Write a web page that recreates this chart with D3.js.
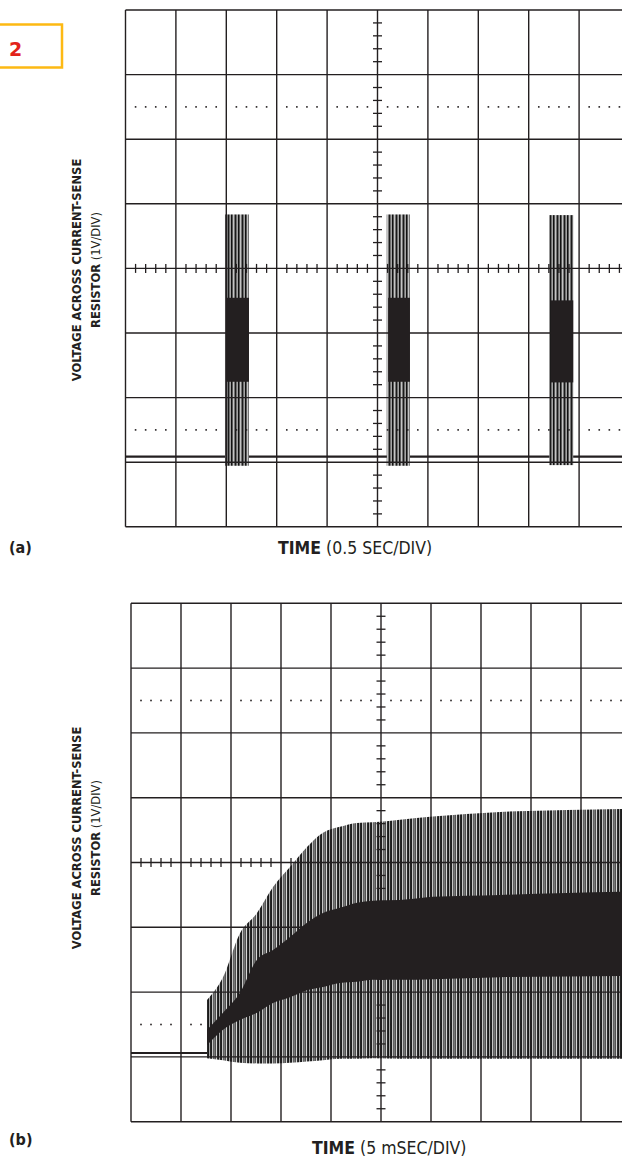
<!DOCTYPE html>
<html>
<head>
<meta charset="utf-8">
<script src="https://cdn.jsdelivr.net/npm/d3@7"></script>
<style>
  body { margin: 0; background: #fff; }
  svg { display: block; }
  text { font-family: "Liberation Sans Narrow", "DejaVu Sans Condensed", "Arial Narrow", sans-serif; fill: #231f20; }
  .bold { font-weight: bold; }
</style>
</head>
<body>
<div id="chart"></div>
<script>
// ---- chart (a): 0.5 s/div, 1 V/div, volts relative to trace ground
var aBurstStart = [0.987, 2.591, 4.204];   // s
var aBurstEnd   = [1.225, 2.822, 4.442];   // s
var aPeak       = [3.75, 3.75, 3.74];      // V
var aBandTop    = [2.46, 2.46, 2.42];
var aBandBot    = [1.16, 1.16, 1.15];
var aTrough     = [-0.14, -0.14, -0.13];

// ---- chart (b): 5 ms/div, 1 V/div
var bTime    = [7.6, 9.2, 10.9, 12.6, 14.2, 15.9, 17.6, 19.2, 20.9, 22.6, 24.2, 26.9, 30.2, 36.9, 43.6, 50];
var bPeak    = [0.82, 1.17, 1.85, 2.16, 2.56, 2.87, 3.18, 3.40, 3.49, 3.55, 3.56, 3.60, 3.65, 3.72, 3.75, 3.77];
var bBandTop = [0.36, 0.62, 0.93, 1.44, 1.59, 1.79, 2.01, 2.16, 2.24, 2.32, 2.35, 2.36, 2.41, 2.44, 2.47, 2.49];
var bBandBot = [0.12, 0.36, 0.51, 0.62, 0.77, 0.86, 0.97, 1.02, 1.08, 1.10, 1.13, 1.13, 1.14, 1.17, 1.18, 1.19];
var bTrough  = [-0.08, -0.11, -0.15, -0.16, -0.16, -0.15, -0.13, -0.11, -0.09, -0.09, -0.08, -0.09, -0.09, -0.09, -0.09, -0.09];

var W = 622, H = 1160;
var ink = "#231f20";

var svg = d3.select("#chart").append("svg")
    .attr("width", W)
    .attr("height", H);

var defs = svg.append("defs");

// spike texture for the bursts (a)
var pa = defs.append("pattern").attr("id", "spikeA")
    .attr("patternUnits", "userSpaceOnUse")
    .attr("width", 7).attr("height", 20);
pa.append("rect").attr("width", 7).attr("height", 20).attr("fill", "#6b6b6b");
pa.append("rect").attr("x", 0).attr("width", 1.2).attr("height", 20).attr("fill", "#111");
pa.append("rect").attr("x", 2.4).attr("width", 0.8).attr("height", 20).attr("fill", "#fff");
pa.append("rect").attr("x", 3.8).attr("width", 1.3).attr("height", 20).attr("fill", "#1a1a1a");
pa.append("rect").attr("x", 5.9).attr("width", 0.6).attr("height", 20).attr("fill", "#ddd");

// spike texture for start-up (b)
var pb = defs.append("pattern").attr("id", "spikeB")
    .attr("patternUnits", "userSpaceOnUse")
    .attr("width", 10).attr("height", 20);
pb.append("rect").attr("width", 10).attr("height", 20).attr("fill", "#3a3a3a");
pb.append("rect").attr("x", 0.5).attr("width", 1.2).attr("height", 20).attr("fill", "#111");
pb.append("rect").attr("x", 2.3).attr("width", 0.9).attr("height", 20).attr("fill", "#fff");
pb.append("rect").attr("x", 4.0).attr("width", 1.4).attr("height", 20).attr("fill", "#777");
pb.append("rect").attr("x", 6.0).attr("width", 0.8).attr("height", 20).attr("fill", "#fff");
pb.append("rect").attr("x", 7.6).attr("width", 1.2).attr("height", 20).attr("fill", "#111");
pb.append("rect").attr("x", 9.2).attr("width", 0.6).attr("height", 20).attr("fill", "#eee");

// draws the scope graticule: 10 x 8 divisions, centre axes with minor ticks, dotted lines
function graticule(g, gx, gy) {
    var lines = g.append("g").attr("stroke", ink).attr("stroke-width", 1.4);
    lines.selectAll(".v").data(d3.range(0, 11)).enter().append("line")
        .attr("x1", d => gx(d)).attr("x2", d => gx(d))
        .attr("y1", gy(0)).attr("y2", gy(8));
    lines.selectAll(".h").data(d3.range(0, 9)).enter().append("line")
        .attr("x1", gx(0)).attr("x2", gx(10))
        .attr("y1", d => gy(d)).attr("y2", d => gy(d));

    var minorX = d3.range(1, 50).map(i => i / 5).filter(d => Math.abs(d - Math.round(d)) > 0.01);
    var minorY = d3.range(1, 40).map(i => i / 5).filter(d => Math.abs(d - Math.round(d)) > 0.01);

    // minor ticks on the centre axes
    var ticks = g.append("g").attr("stroke", ink).attr("stroke-width", 1.3);
    ticks.selectAll(".tx").data(minorX).enter().append("line")
        .attr("x1", d => gx(d)).attr("x2", d => gx(d))
        .attr("y1", gy(4) - 4.5).attr("y2", gy(4) + 4.5);
    ticks.selectAll(".ty").data(minorY).enter().append("line")
        .attr("x1", gx(5) - 4.5).attr("x2", gx(5) + 4.5)
        .attr("y1", d => gy(d)).attr("y2", d => gy(d));

    // dotted lines at 1.5 and 6.5 divisions
    [1.5, 6.5].forEach(function (lv) {
        g.append("g").selectAll("rect").data(minorX).enter().append("rect")
            .attr("x", d => gx(d) - 0.8).attr("y", gy(lv) - 0.8)
            .attr("width", 1.6).attr("height", 1.6)
            .attr("fill", ink);
    });
}

// ================= chart (a) =================
var aLeft = 125.5, aTop = 10, aDivX = 50.4, aDivY = 64.6, aGround = 1.085;
var gxA = d3.scaleLinear().domain([0, 10]).range([aLeft, aLeft + 10 * aDivX]);
var gyA = d3.scaleLinear().domain([0, 8]).range([aTop + 8 * aDivY, aTop]);
var xA = d3.scaleLinear().domain([0, 5]).range(gxA.range());
var yA = d3.scaleLinear().domain([-aGround, 8 - aGround]).range(gyA.range());

var gA = svg.append("g");
var bursts = aBurstStart.map((s, i) => ({
    s: s, e: aBurstEnd[i], peak: aPeak[i], top: aBandTop[i], bot: aBandBot[i], trough: aTrough[i]
}));

// ground trace
gA.append("line")
    .attr("x1", xA(0)).attr("x2", xA(5))
    .attr("y1", yA(0)).attr("y2", yA(0))
    .attr("stroke", ink).attr("stroke-width", 2.2);

// spikes of each burst
gA.selectAll(".spk").data(bursts).enter().append("rect")
    .attr("x", d => xA(d.s))
    .attr("y", d => yA(d.peak))
    .attr("width", d => xA(d.e) - xA(d.s))
    .attr("height", d => yA(d.trough) - yA(d.peak))
    .attr("fill", "url(#spikeA)");

graticule(gA, gxA, gyA);

// dense part of each burst
gA.selectAll(".band").data(bursts).enter().append("rect")
    .attr("x", d => xA(d.s) + 1.5)
    .attr("y", d => yA(d.top))
    .attr("width", d => xA(d.e) - xA(d.s) - 1.5)
    .attr("height", d => yA(d.bot) - yA(d.top))
    .attr("fill", ink);

// ================= chart (b) =================
var bLeft = 131, bTop = 603.3, bDivX = 50, bDivY = 64.8, bGround = 1.06;
var gxB = d3.scaleLinear().domain([0, 10]).range([bLeft, bLeft + 10 * bDivX]);
var gyB = d3.scaleLinear().domain([0, 8]).range([bTop + 8 * bDivY, bTop]);
var xB = d3.scaleLinear().domain([0, 50]).range(gxB.range());
var yB = d3.scaleLinear().domain([-bGround, 8 - bGround]).range(gyB.range());

var gB = svg.append("g");
var pts = bTime.map((t, i) => ({ t: t, peak: bPeak[i], top: bBandTop[i], bot: bBandBot[i], trough: bTrough[i] }));

// ground trace before start-up
gB.append("line")
    .attr("x1", xB(0)).attr("x2", xB(bTime[0]))
    .attr("y1", yB(0)).attr("y2", yB(0))
    .attr("stroke", ink).attr("stroke-width", 2.2);

var spikeArea = d3.area()
    .x(d => xB(d.t))
    .y0(d => yB(d.trough))
    .y1(d => yB(d.peak))
    .curve(d3.curveMonotoneX);
gB.append("path").datum(pts)
    .attr("d", spikeArea)
    .attr("fill", "url(#spikeB)");

graticule(gB, gxB, gyB);

var bandArea = d3.area()
    .x(d => xB(d.t))
    .y0(d => yB(d.bot))
    .y1(d => yB(d.top))
    .curve(d3.curveMonotoneX);
gB.append("path").datum(pts)
    .attr("d", bandArea)
    .attr("fill", ink);

// ================= labels =================
// figure number box
svg.append("rect")
    .attr("x", -2).attr("y", 24.5)
    .attr("width", 64).attr("height", 43)
    .attr("fill", "none").attr("stroke", "#fdb913").attr("stroke-width", 2.5);
svg.append("text")
    .attr("x", 9).attr("y", 56)
    .attr("class", "bold")
    .style("font-family", "'DejaVu Sans', sans-serif")
    .style("font-size", "19px")
    .style("fill", "#e2231a")
    .text("2");

function yLabel(cy) {
    var l1 = svg.append("text")
        .attr("transform", "translate(81," + cy + ") rotate(-90)")
        .attr("text-anchor", "middle")
        .style("font-size", "12.8px");
    l1.append("tspan").attr("class", "bold").text("VOLTAGE ACROSS CURRENT-SENSE");
    var l2 = svg.append("text")
        .attr("transform", "translate(100," + cy + ") rotate(-90)")
        .attr("text-anchor", "middle")
        .style("font-size", "12.8px");
    l2.append("tspan").attr("class", "bold").text("RESISTOR");
    l2.append("tspan").text(" (1V/DIV)");
}
yLabel(270);
yLabel(838);

function xLabel(x, y, unit) {
    var t = svg.append("text").attr("x", x).attr("y", y).style("font-size", "17.5px");
    t.append("tspan").attr("class", "bold").text("TIME");
    t.append("tspan").text(" (" + unit + ")");
}
xLabel(278, 554, "0.5 SEC/DIV");
xLabel(312, 1154, "5 mSEC/DIV");

svg.append("text").attr("x", 9).attr("y", 553).attr("class", "bold").style("font-size", "16px").text("(a)");
svg.append("text").attr("x", 9).attr("y", 1145).attr("class", "bold").style("font-size", "16px").text("(b)");
</script>
</body>
</html>
